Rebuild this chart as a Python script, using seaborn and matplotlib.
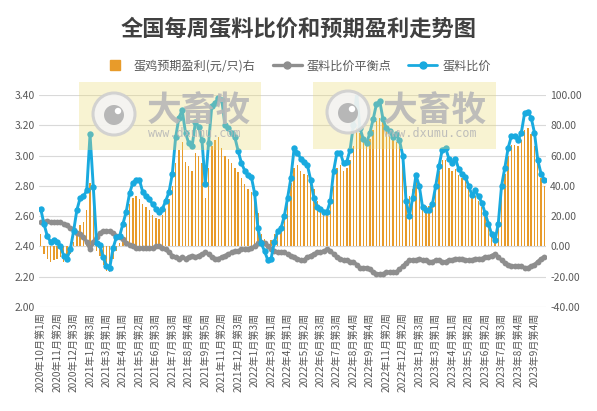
import numpy as np
import pandas as pd
import matplotlib
matplotlib.use("Agg")
import matplotlib.pyplot as plt
import seaborn as sns
from matplotlib.patches import Rectangle, Circle
from matplotlib.lines import Line2D
from matplotlib.ticker import FormatStrFormatter

# ---------------- data ----------------
tick_labels = [
    "2020年10月第1周", "2020年11月第2周", "2020年12月第3周", "2021年1月第3周",
    "2021年3月第1周", "2021年4月第1周", "2021年5月第2周", "2021年6月第3周",
    "2021年7月第3周", "2021年8月第4周", "2021年9月第5周", "2021年11月第2周",
    "2021年12月第3周", "2022年1月第3周", "2022年3月第1周", "2022年4月第1周",
    "2022年5月第2周", "2022年6月第3周", "2022年7月第3周", "2022年8月第4周",
    "2022年9月第4周", "2022年11月第2周", "2022年12月第2周", "2023年1月第3周",
    "2023年3月第1周", "2023年4月第1周", "2023年5月第2周", "2023年6月第2周",
    "2023年7月第3周", "2023年8月第4周", "2023年9月第4周",
]

ratio = [
    2.65, 2.55, 2.47, 2.43, 2.44, 2.43, 2.40, 2.34, 2.32, 2.38,
    2.50, 2.64, 2.72, 2.73, 2.77, 3.14, 2.79, 2.42, 2.41, 2.33,
    2.27, 2.26, 2.39, 2.46, 2.47, 2.55, 2.63, 2.75, 2.82, 2.84,
    2.84, 2.76, 2.73, 2.71, 2.68, 2.65, 2.63, 2.65, 2.70, 2.76,
    2.88, 3.12, 3.25, 3.30, 3.15, 3.08, 3.06, 3.22, 3.19, 3.10,
    2.81, 3.08, 3.33, 3.35, 3.38, 3.37, 3.20, 3.18, 3.15, 3.12,
    3.03, 2.95, 2.90, 2.87, 2.86, 2.75, 2.52, 2.42, 2.37, 2.31,
    2.32, 2.43, 2.50, 2.52, 2.60, 2.72, 2.85, 3.05, 3.02, 2.98,
    2.96, 2.94, 2.84, 2.72, 2.66, 2.65, 2.63, 2.63, 2.70, 2.90,
    3.02, 3.02, 2.95, 2.96, 3.04, 3.20, 3.41, 3.18, 3.11, 3.08,
    3.15, 3.24, 3.34, 3.36, 3.24, 3.18, 3.16, 3.12, 3.14, 3.10,
    3.00, 2.70, 2.60, 2.72, 2.87, 2.80, 2.66, 2.64, 2.64, 2.68,
    2.80, 2.93, 3.04, 3.05, 2.98, 2.95, 2.98, 2.91, 2.88, 2.86,
    2.80, 2.74, 2.77, 2.73, 2.69, 2.62, 2.55, 2.48, 2.44, 2.55,
    2.80, 2.92, 3.05, 3.13, 3.13, 3.10, 3.15, 3.28, 3.29, 3.25,
    3.15, 2.97, 2.88, 2.84,
]

balance = [
    2.56, 2.56, 2.57, 2.56, 2.56, 2.56, 2.56, 2.55, 2.54, 2.52,
    2.51, 2.49, 2.48, 2.46, 2.43, 2.38, 2.43, 2.46, 2.49, 2.50,
    2.50, 2.50, 2.49, 2.47, 2.46, 2.45, 2.42, 2.41, 2.40, 2.39,
    2.39, 2.39, 2.39, 2.39, 2.39, 2.40, 2.40, 2.39, 2.38, 2.36,
    2.34, 2.33, 2.32, 2.33, 2.32, 2.33, 2.34, 2.33, 2.34, 2.35,
    2.36, 2.35, 2.33, 2.32, 2.32, 2.33, 2.34, 2.35, 2.36, 2.37,
    2.37, 2.38, 2.38, 2.38, 2.39, 2.40, 2.42, 2.43, 2.42, 2.40,
    2.38, 2.37, 2.36, 2.36, 2.36, 2.35, 2.34, 2.33, 2.32, 2.31,
    2.31, 2.33, 2.34, 2.35, 2.36, 2.36, 2.37, 2.38, 2.37, 2.35,
    2.33, 2.32, 2.31, 2.31, 2.30, 2.30, 2.28, 2.26, 2.26, 2.26,
    2.25, 2.23, 2.22, 2.22, 2.22, 2.23, 2.23, 2.23, 2.23, 2.25,
    2.27, 2.29, 2.31, 2.31, 2.31, 2.32, 2.31, 2.31, 2.30, 2.30,
    2.31, 2.31, 2.30, 2.30, 2.31, 2.31, 2.32, 2.32, 2.32, 2.31,
    2.31, 2.31, 2.32, 2.32, 2.32, 2.33, 2.33, 2.34, 2.35, 2.33,
    2.31, 2.29, 2.28, 2.27, 2.27, 2.27, 2.27, 2.26, 2.26, 2.27,
    2.28, 2.30, 2.32, 2.33,
]

profit = [
    8, -5, -8, -10, -9, -8, -7, -10, -10, -5,
    3, 8, 14, 16, 24, 42, 30, -3, -6, -12,
    -16, -17, -8, -3, 2, 6, 15, 28, 32, 33,
    31, 28, 26, 24, 21, 19, 18, 21, 25, 31,
    40, 55, 64, 69, 56, 53, 50, 62, 60, 55,
    32, 52, 66, 70, 72, 65, 60, 58, 55, 52,
    49, 45, 41, 38, 36, 30, 22, 8, 5, 3,
    4, 8, 10, 12, 20, 32, 42, 52, 54, 50,
    48, 47, 44, 38, 30, 26, 24, 24, 28, 40,
    52, 54, 50, 52, 57, 66, 78, 75, 69, 67,
    71, 77, 83, 85, 82, 77, 73, 71, 69, 66,
    58, 40, 33, 38, 44, 38, 30, 27, 27, 29,
    38, 50, 57, 57, 52, 50, 51, 47, 45, 44,
    40, 34, 33, 30, 26, 21, 15, 9, 4, 12,
    38, 48, 60, 67, 67, 66, 70, 77, 78, 74,
    66, 55, 45, 40,
]

title = "全国每周蛋料比价和预期盈利走势图"
legend_labels = ["蛋鸡预期盈利(元/只)右", "蛋料比价平衡点", "蛋料比价"]

# ---------------- style ----------------
ORANGE = "#E89B2A"
GRAY = "#8E8E8E"
BLUE = "#19AADF"
TXT = "#595959"

sns.set_theme(style="white")
plt.rcParams["font.family"] = ["Noto Sans CJK SC", "DejaVu Sans"]
plt.rcParams["axes.unicode_minus"] = False

W_PX, H_PX = 597, 411
fig = plt.figure(figsize=(W_PX / 100, H_PX / 100), dpi=100)
fig.patch.set_facecolor("white")

n = min(len(ratio), len(balance), len(profit))
df = pd.DataFrame({
    "idx": np.arange(n),
    "ratio": ratio[:n],
    "balance": balance[:n],
    "profit": profit[:n],
})

left, right, top, bottom = 39, 546, 95, 307
ax_bar = fig.add_axes([left / W_PX, 1 - bottom / H_PX,
                       (right - left) / W_PX, (bottom - top) / H_PX])
ax_line = ax_bar.twinx()

sns.barplot(data=df, x="idx", y="profit", ax=ax_bar, color=ORANGE,
            saturation=1, width=0.42, errorbar=None, native_scale=True,
            linewidth=0)
sns.lineplot(data=df, x="idx", y="balance", ax=ax_line, color=GRAY,
             linewidth=2.4, marker="o", markersize=4.2, markeredgewidth=0,
             zorder=3)
sns.lineplot(data=df, x="idx", y="ratio", ax=ax_line, color=BLUE,
             linewidth=2.1, marker="o", markersize=4.6, markeredgewidth=0,
             zorder=4)

ax_bar.set_xlim(-0.5, n - 0.5)
ax_bar.set_ylim(-40, 100)
ax_line.set_ylim(2.0, 3.4)

ax_bar.set_yticks(np.arange(-40, 101, 20))
ax_line.set_yticks(np.arange(2.0, 3.41, 0.2))
ax_bar.yaxis.set_major_formatter(FormatStrFormatter("%.2f"))
ax_line.yaxis.set_major_formatter(FormatStrFormatter("%.2f"))

# bars' value axis on the right, ratio axis on the left
ax_bar.yaxis.set_ticks_position("right")
ax_bar.yaxis.set_label_position("right")
ax_line.yaxis.set_ticks_position("left")
ax_line.yaxis.set_label_position("left")

ax_bar.set_xticks(np.arange(0, n, 5))
ax_bar.set_xticklabels(tick_labels, rotation=90)

for a in (ax_bar, ax_line):
    a.set_xlabel("")
    a.set_ylabel("")
    for s in a.spines.values():
        s.set_visible(False)
    a.tick_params(length=0, colors=TXT, labelsize=7.5, pad=3)
ax_bar.tick_params(axis="x", labelsize=7.3, pad=4)

ax_bar.set_axisbelow(True)
ax_bar.yaxis.grid(True, color="#D9D9D9", linewidth=0.8)
ax_bar.xaxis.grid(False)
ax_line.grid(False)
if ax_line.get_legend():
    ax_line.get_legend().remove()

# ---------------- title & legend ----------------
fig.text(0.5, 1 - 29 / H_PX, title, ha="center", va="center",
         fontsize=16, fontweight="bold", color="#404040")

handles = [
    Line2D([], [], marker="s", color=ORANGE, linestyle="None", markersize=6.5),
    Line2D([], [], marker="o", color=GRAY, linewidth=2.4, markersize=5),
    Line2D([], [], marker="o", color=BLUE, linewidth=2.0, markersize=5),
]
fig.legend(handles, legend_labels, loc="center",
           bbox_to_anchor=(0.495, 1 - 66 / H_PX), ncol=3, frameon=False,
           fontsize=8.7, handlelength=2.4, handletextpad=0.4,
           columnspacing=1.4, labelcolor=TXT)

# ---------------- watermarks ----------------
def px(x, y):
    return (x / 100.0, (H_PX - y) / 100.0)

def watermark(x0, x1, y0, y1, cx, cy, tx):
    tr = fig.dpi_scale_trans
    fig.add_artist(Rectangle(px(x0, y1), (x1 - x0) / 100, (y1 - y0) / 100,
                             transform=tr, facecolor=(0.92, 0.86, 0.45),
                             alpha=0.32, linewidth=0, zorder=10))
    fig.add_artist(Circle(px(cx, cy), 21 / 100, transform=tr,
                          facecolor="#F4F4F4", edgecolor="#CFCFCF",
                          linewidth=2.2, alpha=0.9, zorder=11))
    fig.add_artist(Circle(px(cx, cy + 1), 10 / 100, transform=tr,
                          facecolor="#B4B4B4", edgecolor="none",
                          alpha=0.95, zorder=12))
    fig.add_artist(Circle(px(cx + 4, cy - 3), 3.2 / 100, transform=tr,
                          facecolor="white", edgecolor="none", zorder=13))
    xa, ya = px(tx, 110)
    fig.text(xa, ya, "大畜牧", transform=tr, ha="left", va="center",
             fontsize=25, fontweight="bold", color="#B8B8B8", alpha=0.9,
             zorder=12)
    xb, yb = px(tx + 1, 133)
    fig.text(xb, yb, "www.dxumu.com", transform=tr, ha="left", va="center",
             fontsize=8.5, color="#B8B8B8", alpha=0.9, zorder=12,
             family="DejaVu Sans Mono")

watermark(79, 261, 82, 150, 114, 114, 147)
watermark(313, 496, 82, 149, 348, 112, 383)

fig.savefig("out.png", dpi=100, facecolor="white")
